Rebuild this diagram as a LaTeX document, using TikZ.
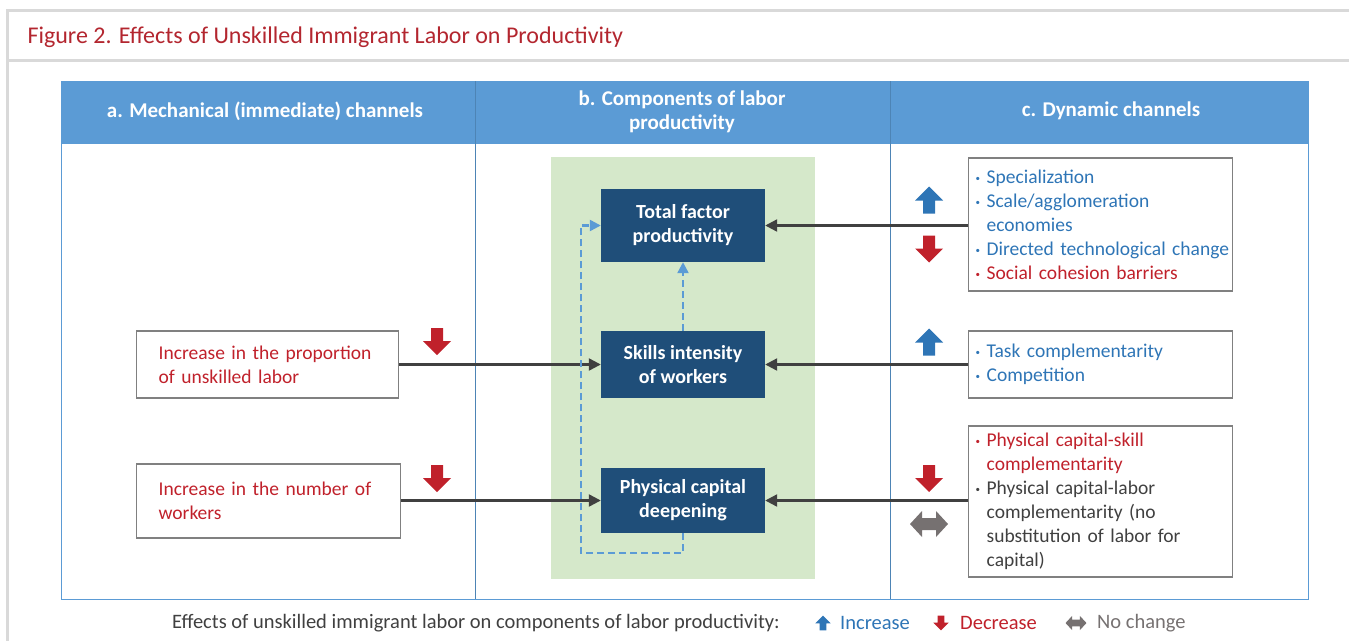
\documentclass[tikz,border=0pt]{standalone}
\usepackage{fontspec}
\setmainfont{Carlito}
\usetikzlibrary{arrows.meta,positioning}

\definecolor{hdrblue}{HTML}{5B9BD5}
\definecolor{darkblue}{HTML}{1F4E79}
\definecolor{txtblue}{HTML}{2E75B6}
\definecolor{txtred}{HTML}{C0212B}
\definecolor{titlered}{HTML}{B3262F}
\definecolor{txtgray}{HTML}{404040}
\definecolor{boxgreen}{HTML}{D5E8CA}
\definecolor{framegray}{HTML}{D9D9D9}
\definecolor{arrgray}{HTML}{767171}

\newcommand{\bul}{\makebox[11pt][l]{\raisebox{2pt}{\fontsize{9}{9}\selectfont\textbullet}}}
\newcommand{\ind}{\hspace*{11pt}}

\tikzset{
  uparr/.pic={\fill (0,-13.5) -- (14,0.5) -- (6,0.5) -- (6,13.5) -- (-6,13.5) -- (-6,0.5) -- (-14,0.5) -- cycle;},
  dnarr/.pic={\fill (0,13.5) -- (14,-0.5) -- (6,-0.5) -- (6,-13.5) -- (-6,-13.5) -- (-6,-0.5) -- (-14,-0.5) -- cycle;},
  lrarr/.pic={\fill (-19,0) -- (-7,-13) -- (-7,-6) -- (7,-6) -- (7,-13) -- (19,0) -- (7,13) -- (7,6) -- (-7,6) -- (-7,13) -- cycle;},
  txt/.style={font=\fontsize{19.5}{24}\selectfont},
  hdr/.style={font=\fontsize{21}{24}\selectfont\bfseries, text=white, align=center},
  compbox/.style={font=\fontsize{20}{24}\selectfont\bfseries, text=white, align=center, fill=darkblue, minimum width=164pt, inner sep=0pt},
  lbox/.style={txt, draw=gray, line width=1.3pt, text=txtred, align=left, inner xsep=22pt, anchor=west},
  rbox/.style={txt, draw=gray, line width=1.3pt, align=left, inner xsep=7pt, text width=250pt, anchor=west},
  conn/.style={draw=txtgray, line width=2.3pt, -{Triangle[length=12pt,width=12pt]}},
  feedback/.style={draw=hdrblue, line width=2.3pt, dash pattern=on 7pt off 4pt, -{Triangle[length=11pt,width=11pt]}},
}

\begin{document}
\begin{tikzpicture}[x=1pt,y=-1pt]
  \useasboundingbox (0,0) rectangle (1349,641);
  % frame and title
  \draw[framegray, line width=3pt] (1349,10) -- (7,10) -- (7,641);
  \draw[framegray, line width=3pt] (7,60) -- (1349,60);
  \node[anchor=west, text=titlered, font=\fontsize{24}{28}\selectfont] (title) at (24,37) {Figure 2. Effects of Unskilled Immigrant Labor on Productivity};

  % table
  \fill[hdrblue] (61,81) rectangle (1308,144);
  \draw[hdrblue, line width=1pt] (61,81) rectangle (1308,599);
  \draw[hdrblue!85!black, line width=1pt] (475,81) -- (475,599);
  \draw[hdrblue!85!black, line width=1pt] (890,81) -- (890,599);
  \node[hdr] (hdra) at (265,111) {a. Mechanical (immediate) channels};
  \node[hdr] (hdrb) at (682,112) {b. Components of labor\\productivity};
  \node[hdr] (hdrc) at (1111,111) {c. Dynamic channels};

  % components
  \fill[boxgreen] (551,157) rectangle (815,579);
  \node[compbox, minimum height=73pt] (tfp) at (683,225.5) {Total factor\\productivity};
  \node[compbox, minimum height=67pt] (skill) at (683,364.5) {Skills intensity\\of workers};
  \node[compbox, minimum height=65pt] (phys) at (683,500.5) {Physical capital\\deepening};

  % mechanical channels
  \node[lbox, text width=218pt, minimum height=67pt] (prop) at (136,364.5) {\mbox{Increase in the proportion}\\\mbox{of unskilled labor}};
  \node[lbox, text width=220pt, minimum height=74pt] (numw) at (136,501) {\mbox{Increase in the number of}\\\mbox{workers}};

  % dynamic channels
  \node[rbox, minimum height=133pt] (dyn1) at (968,224.5) {%
    \textcolor{txtblue}{\bul Specialization}\\
    \textcolor{txtblue}{\bul Scale/agglomeration}\\
    \textcolor{txtblue}{\ind economies}\\
    \textcolor{txtblue}{\bul \mbox{Directed technological change}}\\
    \textcolor{txtred}{\bul Social cohesion barriers}};
  \node[rbox, minimum height=67pt] (dyn2) at (968,364.5) {%
    \textcolor{txtblue}{\bul Task complementarity}\\
    \textcolor{txtblue}{\bul Competition}};
  \node[rbox, minimum height=151pt] (dyn3) at (968,501.5) {%
    \textcolor{txtred}{\bul Physical capital-skill}\\
    \textcolor{txtred}{\ind complementarity}\\
    \textcolor{txtgray}{\bul Physical capital-labor}\\
    \textcolor{txtgray}{\ind complementarity (no}\\
    \textcolor{txtgray}{\ind \mbox{substitution of labor for}}\\
    \textcolor{txtgray}{\ind capital)}};

  % connectors
  \draw[conn] (prop) -- (skill);
  \draw[conn] (numw.east |- phys.west) -- (phys);
  \draw[conn] (dyn1.west |- tfp.east) -- (tfp);
  \draw[conn] (dyn2) -- (skill);
  \draw[conn] (dyn3.west |- phys.east) -- (phys);
  \draw[feedback] (skill.north) -- (tfp.south);
  \draw[feedback] (phys.south) -- ++(0,20) -| ([xshift=-20pt]tfp.west) -- (tfp.west);

  % effect arrows
  \pic[txtred] at (437,341.5) {dnarr};
  \pic[txtred] at (437,478.5) {dnarr};
  \pic[txtblue] at (929,200) {uparr};
  \pic[txtred] at (929,249) {dnarr};
  \pic[txtblue] at (929,342) {uparr};
  \pic[txtred] at (929,478.5) {dnarr};
  \pic[arrgray] at (929,524) {lrarr};

  % legend
  \node[anchor=west, text=txtgray, inner sep=0pt, font=\fontsize{20.5}{24}\selectfont] (legtxt) at (172,623) {Effects of unskilled immigrant labor on components of labor productivity:};
  \pic[txtblue, scale=0.55] at (823,623) {uparr};
  \node[anchor=west, text=txtblue, inner sep=0pt, font=\fontsize{20.5}{24}\selectfont] (leginc) at (840,623) {Increase};
  \pic[txtred, scale=0.55] at (941,623) {dnarr};
  \node[anchor=west, text=txtred, inner sep=0pt, font=\fontsize{20.5}{24}\selectfont] (legdec) at (960,623) {Decrease};
  \pic[arrgray, scale=0.55] at (1076,623) {lrarr};
  \node[anchor=west, text=arrgray, inner sep=0pt, font=\fontsize{20.5}{24}\selectfont] (legno) at (1097,623) {No change};
\end{tikzpicture}
\end{document}
